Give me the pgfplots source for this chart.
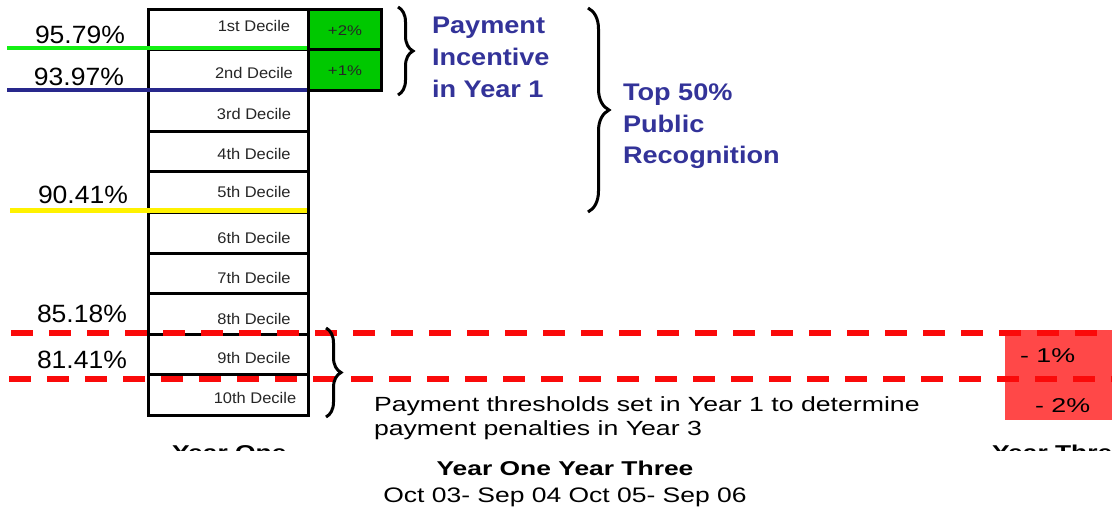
\documentclass[border=0pt]{standalone}
\usepackage{fontspec}
\setmainfont{Liberation Sans}
\usepackage{graphicx}
\usepackage{pgfplots}
\pgfplotsset{compat=1.18}
\usetikzlibrary{decorations.pathreplacing}
\definecolor{navyt}{RGB}{51,51,153}
\definecolor{navyl}{RGB}{40,40,140}
\definecolor{limel}{RGB}{20,240,20}
\definecolor{boxg}{RGB}{0,200,0}
\definecolor{redl}{RGB}{250,10,10}
\definecolor{redbox}{RGB}{255,72,72}
\newcommand\R[3]{\fontsize{#1}{#1}\selectfont\scalebox{#2}[1]{#3}}
\newcommand\B[3]{\fontsize{#1}{#1}\selectfont\bfseries\scalebox{#2}[1]{#3}}
\begin{document}
\begin{tikzpicture}[every node/.append style={inner sep=0pt, outer sep=0pt}]
\begin{axis}[
  scale only axis, width=1112pt, height=512pt,
  xmin=0, xmax=1112, ymin=0, ymax=512, y dir=reverse,
  hide axis, clip=false, no markers]
% red box (Year Three penalties)
\addplot[draw=none, fill=redbox] coordinates {(1005,330) (1112,330) (1112,420) (1005,420)} -- cycle;
% decile column
\addplot[draw=black, line width=3pt, fill=white] coordinates {(148,9) (308,9) (308,415) (148,415)} -- cycle;
\addplot[black, line width=3pt] coordinates {(148,49) (308,49)};
\addplot[black, line width=3pt] coordinates {(148,90) (308,90)};
\addplot[black, line width=3pt] coordinates {(148,131) (308,131)};
\addplot[black, line width=3pt] coordinates {(148,171) (308,171)};
\addplot[black, line width=3pt] coordinates {(148,212) (308,212)};
\addplot[black, line width=3pt] coordinates {(148,253) (308,253)};
\addplot[black, line width=3pt] coordinates {(148,293) (308,293)};
\addplot[black, line width=3pt] coordinates {(148,334) (308,334)};
\addplot[black, line width=3pt] coordinates {(148,374) (308,374)};
% green incentive boxes
\addplot[draw=black, line width=3pt, fill=boxg] coordinates {(308,9) (381,9) (381,90) (308,90)} -- cycle;
\addplot[black, line width=3pt] coordinates {(308,49) (381,49)};
% threshold lines
\addplot[limel, line width=4pt] coordinates {(7,47.5) (307,47.5)};
\addplot[navyl, line width=4.5pt] coordinates {(7,90) (307,90)};
\addplot[yellow, line width=5pt] coordinates {(10,210) (307,210)};
\addplot[redl, line width=6pt, dash pattern=on 22pt off 16pt] coordinates {(11,333) (1112,333)};
\addplot[redl, line width=6pt, dash pattern=on 22pt off 16pt] coordinates {(9,379) (1112,379)};
% braces
\draw[decorate, decoration={brace, amplitude=15pt}, line width=3pt] (axis cs:398,7) -- (axis cs:398,95);
\draw[decorate, decoration={brace, amplitude=21pt}, line width=3pt] (axis cs:588,8) -- (axis cs:588,212);
\draw[decorate, decoration={brace, amplitude=15pt}, line width=3pt] (axis cs:326,328) -- (axis cs:326,417);
% percentage labels
\node[anchor=base west] at (axis cs:35,43) {\R{25}{1.06}{95.79\%}};
\node[anchor=base west] at (axis cs:34,85) {\R{25}{1.06}{93.97\%}};
\node[anchor=base west] at (axis cs:38,203) {\R{25}{1.06}{90.41\%}};
\node[anchor=base west] at (axis cs:37,322) {\R{25}{1.06}{85.18\%}};
\node[anchor=base west] at (axis cs:37,368) {\R{25}{1.06}{81.41\%}};
% decile labels
\node[anchor=base, text=black!85] at (axis cs:254,31.5) {\R{15.4}{1.07}{1st Decile}};
\node[anchor=base, text=black!85] at (axis cs:254,78) {\R{15.4}{1.07}{2nd Decile}};
\node[anchor=base, text=black!85] at (axis cs:254,119) {\R{15.4}{1.07}{3rd Decile}};
\node[anchor=base, text=black!85] at (axis cs:254,159) {\R{15.4}{1.07}{4th Decile}};
\node[anchor=base, text=black!85] at (axis cs:254,197) {\R{15.4}{1.07}{5th Decile}};
\node[anchor=base, text=black!85] at (axis cs:254,243) {\R{15.4}{1.07}{6th Decile}};
\node[anchor=base, text=black!85] at (axis cs:254,283) {\R{15.4}{1.07}{7th Decile}};
\node[anchor=base, text=black!85] at (axis cs:254,324) {\R{15.4}{1.07}{8th Decile}};
\node[anchor=base, text=black!85] at (axis cs:254,363) {\R{15.4}{1.07}{9th Decile}};
\node[anchor=base, text=black!85] at (axis cs:255,403) {\R{15.4}{1.07}{10th Decile}};
% incentive percents
\node[anchor=base, text=black!85] at (axis cs:345,35) {\R{14}{1.2}{+2\%}};
\node[anchor=base, text=black!85] at (axis cs:345,75) {\R{14}{1.2}{+1\%}};
% penalty percents
\node[anchor=base west] at (axis cs:1020,362) {\R{20}{1.34}{- 1\%}};
\node[anchor=base west] at (axis cs:1035,412) {\R{20}{1.34}{- 2\%}};
% navy annotations
\node[anchor=base west, text=navyt] at (axis cs:432,33) {\B{24}{1.13}{Payment}};
\node[anchor=base west, text=navyt] at (axis cs:432,65) {\B{24}{1.13}{Incentive}};
\node[anchor=base west, text=navyt] at (axis cs:432,97) {\B{24}{1.13}{in Year 1}};
\node[anchor=base west, text=navyt] at (axis cs:623,100) {\B{24}{1.13}{Top 50\%}};
\node[anchor=base west, text=navyt] at (axis cs:623,132) {\B{24}{1.13}{Public}};
\node[anchor=base west, text=navyt] at (axis cs:623,163) {\B{24}{1.13}{Recognition}};
% threshold note
\node[anchor=base west] at (axis cs:374,411) {\R{20.5}{1.3}{Payment thresholds set in Year 1 to determine}};
\node[anchor=base west] at (axis cs:374,435) {\R{20.5}{1.3}{payment penalties in Year 3}};
% bottom titles
\node[anchor=base] at (axis cs:565,475) {\B{20}{1.32}{Year One Year Three}};
\node[anchor=base] at (axis cs:565,502) {\R{21}{1.26}{Oct 03- Sep 04 Oct 05- Sep 06}};
% clipped column titles
\begin{scope}
\clip (axis cs:150,440) rectangle (axis cs:1112,450);
\node[anchor=base west] at (axis cs:172,459) {\B{20}{1.32}{Year One}};
\node[anchor=base west] at (axis cs:992,459) {\B{20}{1.32}{Year Three}};
\end{scope}
\end{axis}
\pgfresetboundingbox
\path[use as bounding box] (current axis.south west) rectangle (current axis.north east);
\end{tikzpicture}
\end{document}
